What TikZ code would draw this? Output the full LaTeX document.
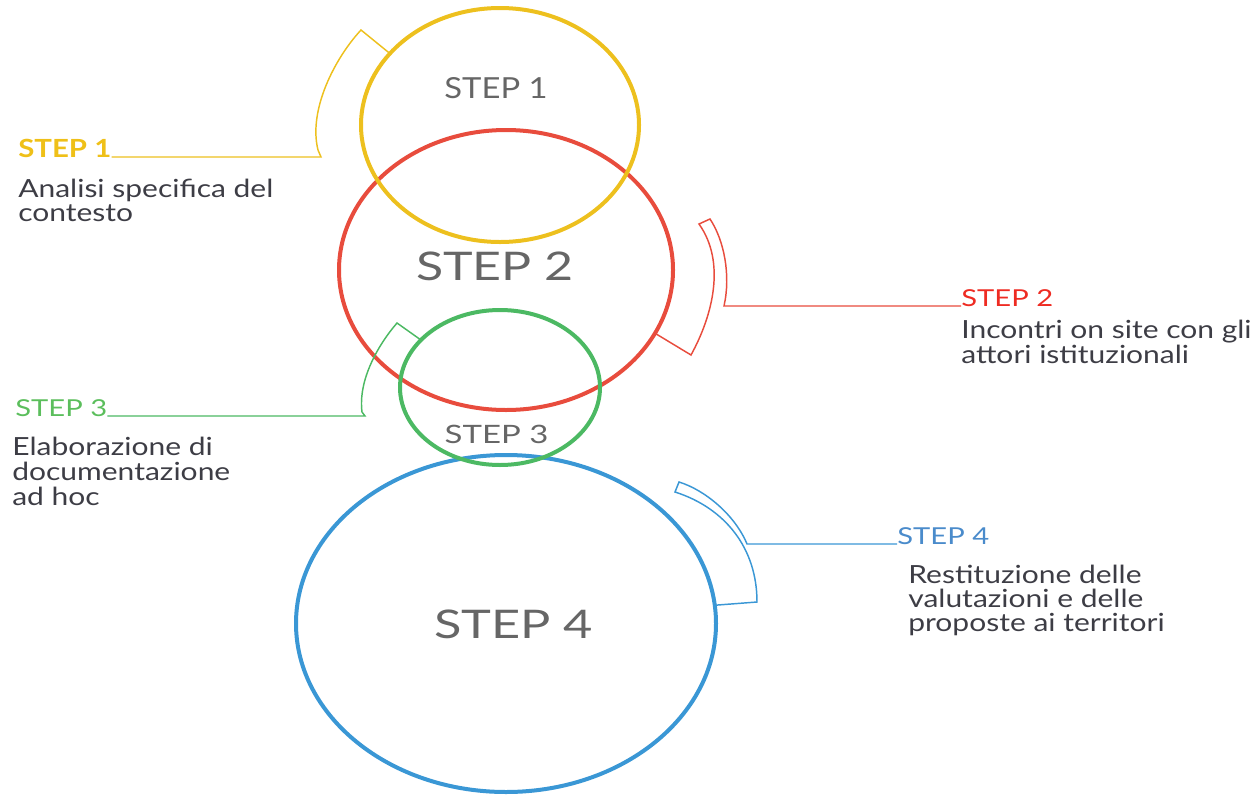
\documentclass[tikz,border=0pt]{standalone}
\usepackage{fontspec}
\setmainfont{Lato}
\usetikzlibrary{shapes.geometric}
\definecolor{cyel}{HTML}{EDC01E}
\definecolor{cred}{HTML}{E84C3D}
\definecolor{cgreen}{HTML}{4CB963}
\definecolor{cblue}{HTML}{3A97D5}
\definecolor{tyel}{HTML}{EFC018}
\definecolor{tred}{HTML}{EE2B22}
\definecolor{tgreen}{HTML}{5BBE5C}
\definecolor{tblue}{HTML}{4A8BCB}
\definecolor{ctext}{HTML}{666666}
\definecolor{btext}{HTML}{3D3D45}
\tikzset{
  ring/.style={draw, ellipse, line width=3pt, inner sep=0pt, outer sep=0pt},
  ringlabel/.style={text=ctext, inner sep=0pt, anchor=base},
  steplabel/.style={inner sep=0pt, anchor=base west, xscale=1.25, font=\fontsize{17.5pt}{20pt}\selectfont},
  desc/.style={text=btext, inner sep=0pt, align=left, anchor=base west, xscale=1.2,
    font=\fontsize{18.75pt}{17.5pt}\selectfont},
  bracket/.style={line width=1.1pt, line join=miter}
}
\begin{document}
\begin{tikzpicture}[x=0.75pt,y=-0.75pt]
\useasboundingbox (0,0) rectangle (1253,800);
% rings
\node[ring, cred, minimum width=250.5pt, minimum height=210pt] (c2) at (506,270) {};
\node[ring, cyel, minimum width=208.5pt, minimum height=175.5pt] (c1) at (500,125) {};
\node[ring, cblue, minimum width=315pt, minimum height=252.75pt] (c4) at (506,623.5) {};
\node[ring, cgreen, minimum width=150pt, minimum height=116.25pt] (c3) at (500,387.5) {};
% ring labels
\node[ringlabel, xscale=1.13, font=\fontsize{21.75pt}{24pt}\selectfont] (r1) at (496,98) {STEP 1};
\node[ringlabel, xscale=1.27, font=\fontsize{29.6pt}{32pt}\selectfont] (r2) at (495,280) {STEP 2};
\node[ringlabel, xscale=1.3, font=\fontsize{19pt}{24pt}\selectfont] (r3) at (496.5,443) {STEP 3};
\node[ringlabel, xscale=1.28, font=\fontsize{29.6pt}{32pt}\selectfont] (r4) at (513.5,638) {STEP 4};
% side labels
\node[steplabel, text=tyel, xscale=0.94, font=\fontsize{18.75pt}{20pt}\selectfont\bfseries] (s1) at (18,157) {STEP 1};
\node[desc] (d1) at (18,221) {Analisi specifica del\\contesto};
\node[steplabel, text=tred] (s2) at (961,306) {STEP 2};
\node[desc, font=\fontsize{18.75pt}{16.5pt}\selectfont] (d2) at (961,363) {Incontri on site con gli\\attori istituzionali};
\node[steplabel, text=tgreen] (s3) at (15,416) {STEP 3};
\node[desc, font=\fontsize{18.75pt}{18.75pt}\selectfont] (d3) at (12,505) {Elaborazione di\\documentazione\\ad hoc};
\node[steplabel, text=tblue] (s4) at (897,544) {STEP 4};
\node[desc, font=\fontsize{18.75pt}{18pt}\selectfont] (d4) at (908,631) {Restituzione delle\\valutazioni e delle\\proposte ai territori};
% brackets
\draw[bracket, cyel] (c1.147) -- (361,30) .. controls (335,58) and (308,110) .. (318,150) -- (321,157) -- (s1.base east);
\draw[bracket, cred] (c2.-23.6) -- (691,355) .. controls (713,315) and (726,262) .. (699,224) -- (710,219)
  .. controls (724,240) and (731,275) .. (724,306) -- (s2.base west);
\draw[bracket, cgreen] (c3.149.5) -- (397,323) .. controls (378,345) and (358,380) .. (362,412) -- (365,416) -- (s3.base east);
\draw[bracket, cblue] (c4.5.9) -- (757,602) .. controls (757,548) and (725,508) .. (675,492) -- (679,482)
  .. controls (705,490) and (735,515) .. (747,544) -- (s4.base west);
\end{tikzpicture}
\end{document}
